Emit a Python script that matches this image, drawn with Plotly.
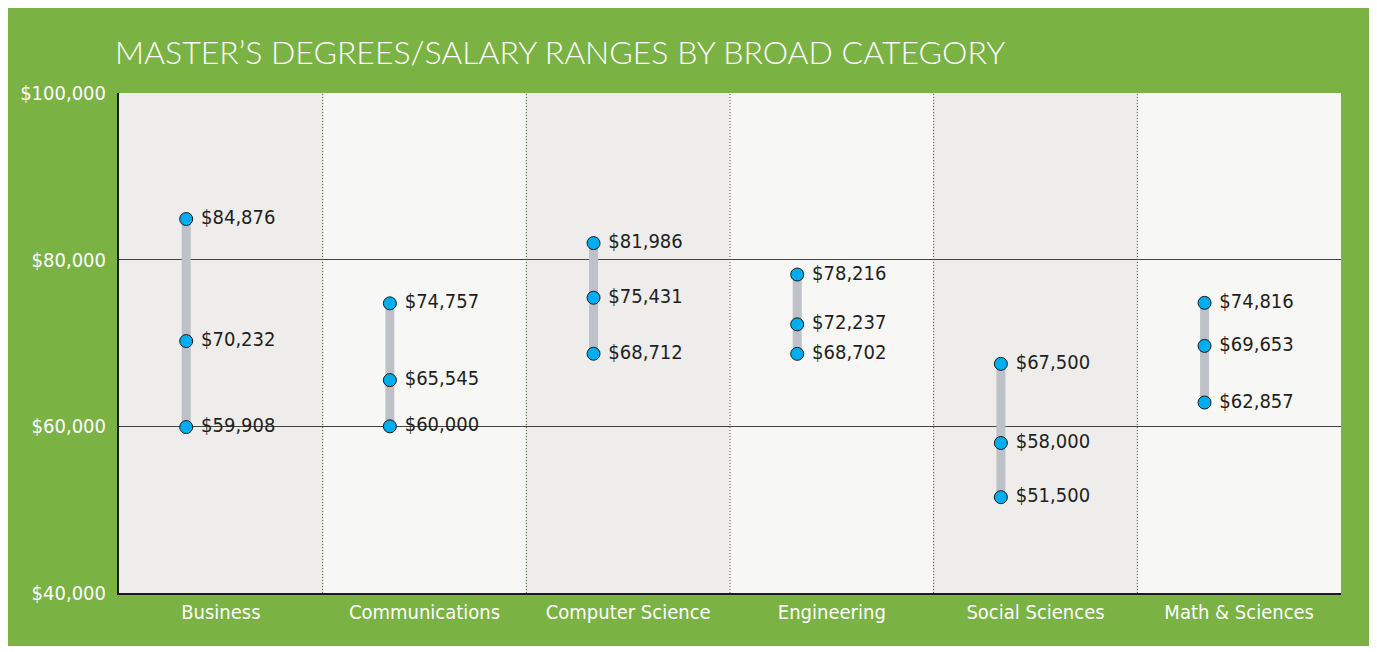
import plotly.graph_objects as go

categories = ["Business", "Communications", "Computer Science", "Engineering",
              "Social Sciences", "Math & Sciences"]
high = [84876, 74757, 81986, 78216, 67500, 74816]
mid = [70232, 65545, 75431, 72237, 58000, 69653]
low = [59908, 60000, 68712, 68702, 51500, 62857]
y_ticks = [40000, 60000, 80000, 100000]

GREEN = "#7ab343"
DOT = "#00aeef"
BAR = "#bfc1c8"
COND = "DejaVu Sans Condensed, Liberation Sans Narrow, Arial Narrow, sans-serif"

W, H = 1368, 638
xpos = list(range(len(categories)))
mx = [i - 0.17 for i in xpos]

# range bars
bx, by = [], []
for x, lo, hi in zip(mx, low, high):
    bx += [x, x, None]
    by += [lo, hi, None]

fig = go.Figure()
fig.add_trace(go.Scatter(x=bx, y=by, mode="lines",
                         line=dict(color=BAR, width=9),
                         hoverinfo="skip", showlegend=False))

for vals in (high, mid, low):
    fig.add_trace(go.Scatter(
        x=mx, y=vals, mode="markers+text",
        marker=dict(color=DOT, size=13, line=dict(color="#1a1a1a", width=1)),
        text=[f" ${v:,}" for v in vals],
        textposition="middle right",
        textfont=dict(family=COND, size=20, color="#231f20"),
        showlegend=False,
    ))

# column backgrounds and dotted separators
shapes = []
for i in xpos:
    shapes.append(dict(type="rect", xref="x", yref="paper",
                       x0=i - 0.5, x1=i + 0.5, y0=0, y1=1,
                       fillcolor="#eeedec" if i % 2 == 0 else "#f7f7f6",
                       line_width=0, layer="below"))
for i in xpos[:-1]:
    shapes.append(dict(type="line", xref="x", yref="paper",
                       x0=i + 0.5, x1=i + 0.5, y0=0, y1=1,
                       line=dict(color="#555555", width=1, dash="1px,2px"),
                       layer="below"))

fig.update_layout(
    width=W, height=H,
    margin=dict(l=106, r=35, t=85, b=53),
    paper_bgcolor=GREEN,
    plot_bgcolor="rgba(0,0,0,0)",
    shapes=shapes,
    title=dict(text="MASTER’S DEGREES/SALARY RANGES BY BROAD CATEGORY",
               x=107 / W, xanchor="left", y=1 - 45 / H, yanchor="middle",
               font=dict(family="Lato", size=32, color="white", weight=300)),
    xaxis=dict(range=[-0.5, 5.5], tickvals=xpos, ticktext=categories,
               showgrid=False, zeroline=False, showline=True,
               linecolor="#1a1a1a", linewidth=2, ticks="",
               tickfont=dict(family=COND, size=20, color="white")),
    yaxis=dict(range=[40000, 100000], tickvals=y_ticks,
               ticktext=[f"${v:,}" for v in y_ticks],
               showgrid=True, gridcolor="#444444", gridwidth=1,
               zeroline=False, showline=True, linecolor="#1a1a1a", linewidth=2,
               ticks="", ticklabelstandoff=7,
               tickfont=dict(family=COND, size=20, color="white")),
)

fig.write_html("out.html")
